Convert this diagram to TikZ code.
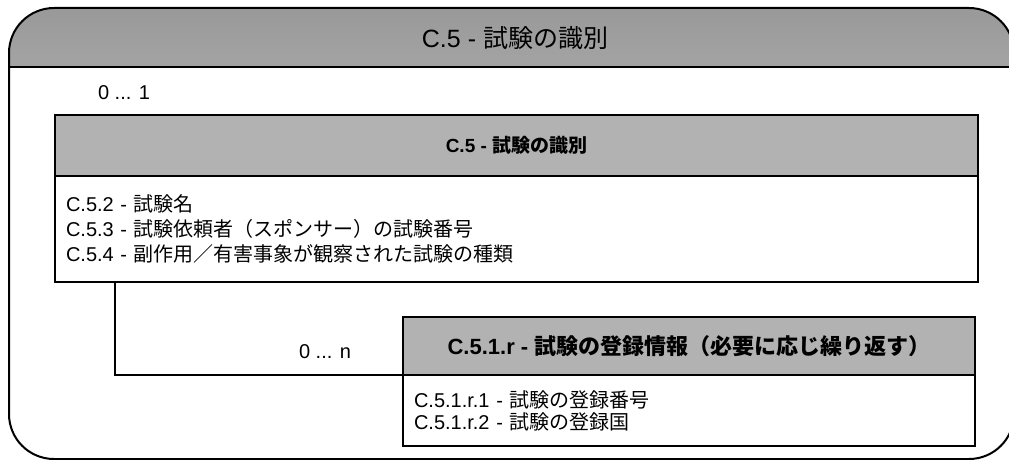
\documentclass[tikz,border=0pt]{standalone}
\usepackage{fontspec}
\setmainfont{Liberation Sans}
\newfontfamily\jp{Noto Sans CJK JP}
\usetikzlibrary{positioning}

\begin{document}
\begin{tikzpicture}
[x=1pt, y=-1pt, semithick,
frame/.style={line width=2pt, rounded corners=45pt},
hdr/.style={draw, line width=1.5pt, fill=gray!60, outer sep=0pt, inner sep=0pt, font=\fontsize{19}{22}\selectfont\bfseries},
body/.style={draw, line width=1.5pt, fill=white, outer sep=0pt, inner xsep=11pt, align=left, font=\fontsize{20}{25}\selectfont},
mult/.style={font=\fontsize{20}{22}\selectfont},
link/.style={line width=2.2pt}
]
  \useasboundingbox (0,0) rectangle (1009,460);
  % frame with shaded title band
  \begin{scope}
    \clip (0,8) rectangle (1009,67);
    \shade[top color=gray!80, bottom color=gray!15, rounded corners=45pt] (9,8) rectangle (1014,459);
  \end{scope}
  \draw[frame] (9,8) rectangle (1014,459);
  \draw[line width=2pt] (9,67) -- (1009,67);
  \node[font=\fontsize{25}{28}\selectfont] (title) at (515,38) {C.5 - {\jp 試験の識別}};

  \node[mult] (multC5) at (124,93) {0 ... 1};
  \node[hdr, minimum width=923pt, minimum height=61pt, anchor=north west] (hdrC5) at (55,115) {C.5 - {\jp 試験の識別}};
  \node[body, below=0pt of hdrC5, text width=901pt, minimum height=106pt] (bodyC5)
    {C.5.2 - {\jp 試験名}\\
     C.5.3 - {\jp 試験依頼者（スポンサー）の試験番号}\\
     C.5.4 - {\jp 副作用／有害事象が観察された試験の種類}};

  \node[mult] (multC51) at (325,352) {0 ... n};
  \node[hdr, minimum width=572pt, minimum height=58pt, anchor=north west, font=\fontsize{22}{24}\selectfont\bfseries] (hdrC51) at (403,317)
    {C.5.1.r - {\jp 試験の登録情報（必要に応じ繰り返す）}};
  \node[body, below=0pt of hdrC51, text width=550pt, minimum height=71pt, font=\fontsize{20}{22}\selectfont] (bodyC51)
    {C.5.1.r.1 - {\jp 試験の登録番号}\\
     C.5.1.r.2 - {\jp 試験の登録国}};

  \draw[link] ([xshift=60pt]bodyC5.south west) |- (hdrC51.south west);
\end{tikzpicture}
\end{document}
